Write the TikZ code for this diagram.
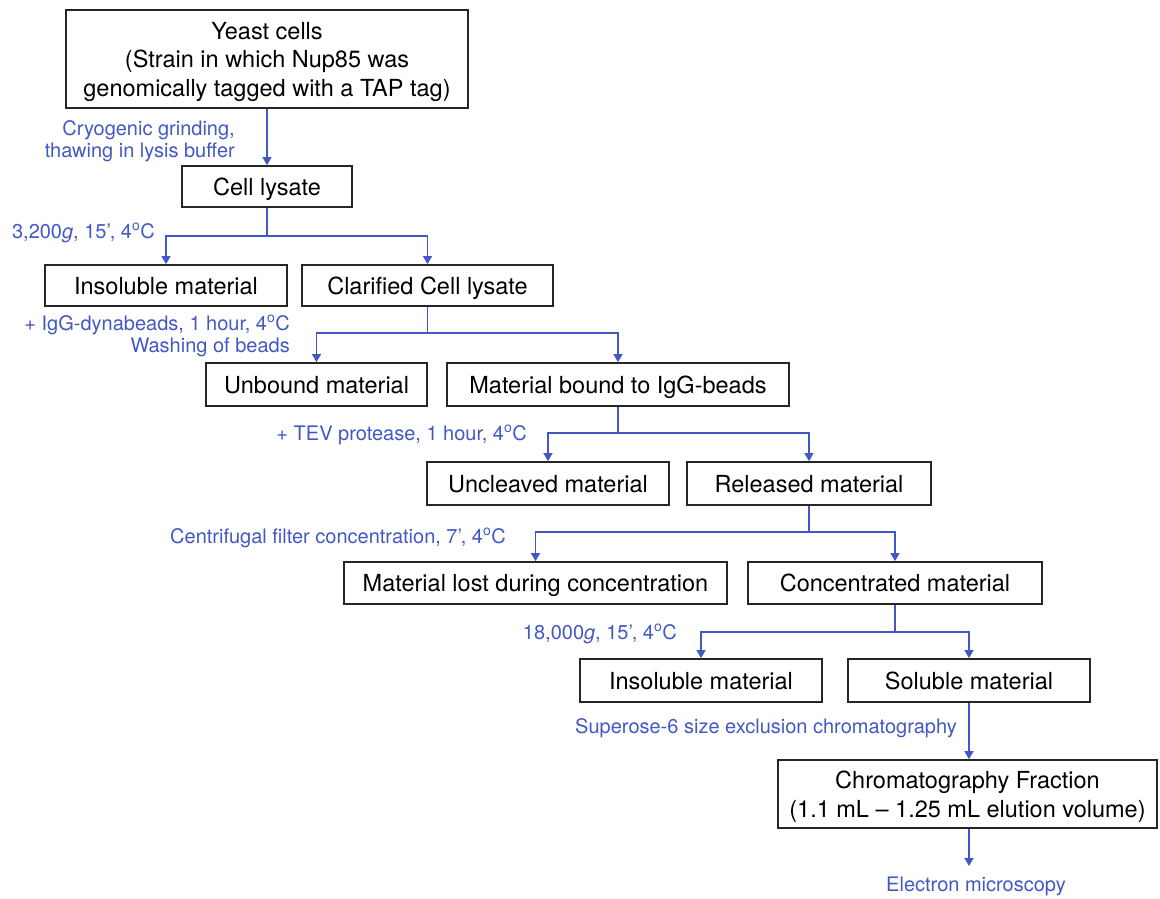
\documentclass[tikz,border=0pt]{standalone}
\usepackage{fontspec}
\setmainfont{TeX Gyre Heros}
\usetikzlibrary{arrows.meta}
\definecolor{flowblue}{RGB}{66,88,196}

\begin{document}
\begin{tikzpicture}
        [x=1pt, y=-1pt,
         box/.style={draw=black!85, line width=1.8pt, inner sep=0pt, align=center,
            text depth=0pt, font=\fontsize{23.5}{28.5}\selectfont},
         note/.style={text=flowblue, inner sep=0pt, align=right,
            font=\fontsize{20}{22}\selectfont},
         link/.style={draw=flowblue, line width=1.5pt},
         feed/.style={link, -{Triangle[length=8pt,width=9pt]}}]
        \useasboundingbox (0,0) rectangle (1160,899);
        % boxes
        \node[box, minimum width=402, minimum height=98] (yeast) at (267,59)
            {Yeast cells\\(Strain in which Nup85 was\\genomically tagged with a TAP tag)};
        \node[box, minimum width=170, minimum height=41] (lysate) at (267,186.5) {Cell lysate};
        \node[box, minimum width=242, minimum height=41] (insolA) at (166,285.5) {Insoluble material};
        \node[box, minimum width=251, minimum height=41] (clarified) at (427.5,285.5) {Clarified Cell lysate};
        \node[box, minimum width=221, minimum height=43] (unbound) at (316.5,384.5) {Unbound material};
        \node[box, minimum width=342, minimum height=43] (bound) at (618,384.5) {Material bound to IgG-beads};
        \node[box, minimum width=242, minimum height=43] (uncleaved) at (548,483.5) {Uncleaved material};
        \node[box, minimum width=244, minimum height=43] (released) at (809,483.5) {Released material};
        \node[box, minimum width=383, minimum height=42] (lost) at (535.5,583) {Material lost during concentration};
        \node[box, minimum width=294, minimum height=42] (concentr) at (895,583) {Concentrated material};
        \node[box, minimum width=242, minimum height=43] (insolB) at (701,680.5) {Insoluble material};
        \node[box, minimum width=242, minimum height=43] (soluble) at (969,680.5) {Soluble material};
        \node[box, minimum width=379, minimum height=68] (fraction) at (967.5,794)
            {Chromatography Fraction\\(1.1 mL -- 1.25 mL elution volume)};
        % step labels
        \node[note, anchor=east] (cryo) at (235,141) {Cryogenic grinding,\\thawing in lysis buffer};
        \node[note, anchor=east] (spinA) at (155,233) {3,200\textit{g}, 15’, 4\textsuperscript{o}C};
        \node[note, anchor=east] (beads) at (290,336) {+ IgG-dynabeads, 1 hour, 4\textsuperscript{o}C\\Washing of beads};
        \node[note, anchor=east] (tev) at (527,435) {+ TEV protease, 1 hour, 4\textsuperscript{o}C};
        \node[note, anchor=east] (filter) at (506,538) {Centrifugal filter concentration, 7’, 4\textsuperscript{o}C};
        \node[note, anchor=east] (spinB) at (677,634) {18,000\textit{g}, 15’, 4\textsuperscript{o}C};
        \node[note, anchor=east] (sec) at (957,728) {Superose-6 size exclusion chromatography};
        \node[note] (em) at (976,886) {Electron microscopy};
        % split points
        \coordinate (s1) at (267,236);
        \coordinate (s2) at (427.5,333);
        \coordinate (s3) at (618,433);
        \coordinate (s4) at (809,532);
        \coordinate (s5) at (895,632);
        \coordinate (emtip) at (969,866);
        % connectors
        \draw[feed] (yeast.south) -- (lysate.north);
        \draw[link] (lysate.south) -- (s1);
        \draw[feed] (s1) -| (insolA.north);
        \draw[feed] (s1) -| (clarified.north);
        \draw[link] (clarified.south) -- (s2);
        \draw[feed] (s2) -| (unbound.north);
        \draw[feed] (s2) -| (bound.north);
        \draw[link] (bound.south) -- (s3);
        \draw[feed] (s3) -| (uncleaved.north);
        \draw[feed] (s3) -| (released.north);
        \draw[link] (released.south) -- (s4);
        \draw[feed] (s4) -| (lost.north);
        \draw[feed] (s4) -| (concentr.north);
        \draw[link] (concentr.south) -- (s5);
        \draw[feed] (s5) -| (insolB.north);
        \draw[feed] (s5) -| (soluble.north);
        \draw[feed] (soluble.south) -- (soluble.south |- fraction.north);
        \draw[feed] (soluble.south |- fraction.south) -- (emtip);
\end{tikzpicture}
\end{document}
